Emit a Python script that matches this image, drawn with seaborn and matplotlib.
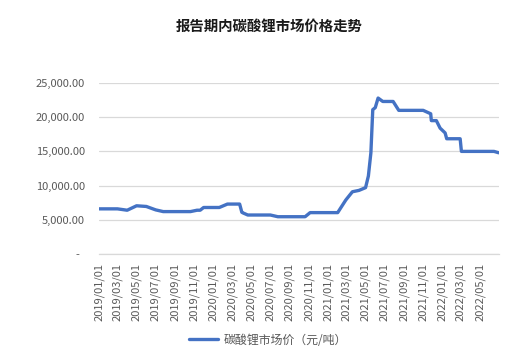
import matplotlib
matplotlib.use("Agg")
import matplotlib.pyplot as plt
import seaborn as sns
import pandas as pd

dates = ["2019-01-01", "2019-03-01", "2019-04-01", "2019-05-01", "2019-06-01",
         "2019-07-01", "2019-07-25", "2019-10-20", "2019-11-10", "2019-11-20",
         "2019-12-01", "2020-01-20", "2020-02-15", "2020-03-25", "2020-04-01",
         "2020-04-05", "2020-04-20", "2020-07-01", "2020-07-25", "2020-10-20",
         "2020-11-05", "2021-02-01", "2021-02-27", "2021-03-20", "2021-04-10",
         "2021-05-01", "2021-05-10", "2021-05-18", "2021-05-24", "2021-06-01",
         "2021-06-10", "2021-06-25", "2021-07-28", "2021-08-15", "2021-11-01",
         "2021-11-25", "2021-11-27", "2021-12-13", "2021-12-25", "2022-01-10",
         "2022-01-15", "2022-02-27", "2022-03-03", "2022-06-15", "2022-06-30"]
prices = [6600, 6600, 6400, 7050, 6950,
          6450, 6200, 6200, 6400, 6400,
          6800, 6800, 7300, 7300, 6100,
          6000, 5700, 5700, 5450, 5450,
          6050, 6050, 7900, 9100, 9300,
          9700, 11400, 14800, 21100, 21400,
          22800, 22300, 22300, 21000, 21000,
          20500, 19500, 19500, 18400, 17700,
          16850, 16850, 15000, 15000, 14800]
series_name = "碳酸锂市场价（元/吨）"
title = "报告期内碳酸锂市场价格走势"
y_ticks = [0, 5000, 10000, 15000, 20000, 25000]
y_labels = ["-  ", "5,000.00", "10,000.00", "15,000.00", "20,000.00", "25,000.00"]

df = pd.DataFrame({"date": pd.to_datetime(dates), "price": prices, "series": series_name})

sns.set_style("white")
plt.rcParams["font.family"] = ["Noto Sans CJK SC", "DejaVu Sans"]

fig = plt.figure(figsize=(5.16, 3.61), dpi=100)
ax = fig.add_axes([99 / 516, 1 - 254 / 361, 400 / 516, (254 - 83) / 361])

sns.lineplot(data=df, x="date", y="price", hue="series", palette=["#4472C4"],
             linewidth=2.4, ax=ax, legend=True)

ax.set_ylim(0, 25000)
ax.set_xlim(pd.Timestamp("2019-01-01"), pd.Timestamp("2022-07-01"))
ax.set_yticks(y_ticks)
ax.set_yticklabels(y_labels)
ax.yaxis.grid(True, color="#D9D9D9", linewidth=0.9)
ax.set_axisbelow(True)

xt = pd.date_range("2019-01-01", "2022-07-01", freq="2MS")
ax.set_xticks(xt)
ax.set_xticklabels([d.strftime("%Y/%m/%d") if i < len(xt) - 1 else "" for i, d in enumerate(xt)],
                   rotation=90)

for s in ["top", "right", "left"]:
    ax.spines[s].set_visible(False)
ax.spines["bottom"].set_color("#D9D9D9")
ax.spines["bottom"].set_linewidth(0.9)

ax.tick_params(axis="y", length=0, pad=10, labelsize=8, labelcolor="#595959")
ax.tick_params(axis="x", length=3.5, width=0.9, color="#D9D9D9", pad=3,
               labelsize=8, labelcolor="#595959", direction="out")
ax.set_xlabel("")
ax.set_ylabel("")

handles, labels = ax.get_legend_handles_labels()
leg = ax.legend(handles, labels, loc="center", bbox_to_anchor=(268 / 516, 21 / 361),
                bbox_transform=fig.transFigure, frameon=False, fontsize=8.6,
                handlelength=2.4, handletextpad=0.5)
for t in leg.get_texts():
    t.set_color("#595959")

fig.text(269 / 516, 1 - 27 / 361, title, ha="center", va="center",
         fontsize=10.4, fontweight="bold", color="#1a1a1a")

fig.savefig("out.png", dpi=100)
